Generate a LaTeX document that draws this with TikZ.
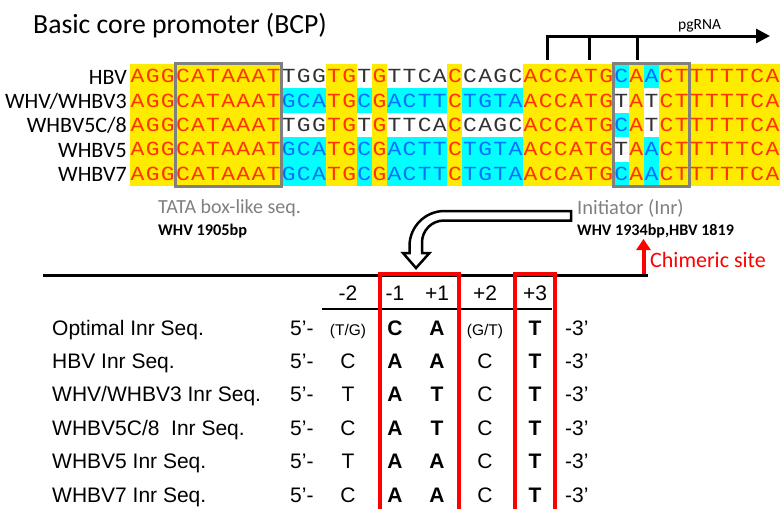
\documentclass[tikz,border=0pt]{standalone}
\usepackage{fontspec}
\setmainfont{Carlito}
\newfontfamily\seqfont[FakeStretch=1.15]{Liberation Mono}
\newfontfamily\tabfont{Liberation Sans}
\usetikzlibrary{arrows.meta}
\definecolor{bgy}{RGB}{255,235,0}
\definecolor{fgy}{RGB}{255,51,0}
\definecolor{bgc}{RGB}{0,255,255}
\definecolor{fgc}{RGB}{0,112,255}
\definecolor{bgw}{RGB}{255,255,255}
\definecolor{fgw}{RGB}{50,50,50}
\definecolor{boxgray}{RGB}{128,128,128}
\definecolor{labgray}{RGB}{128,128,128}
\definecolor{myred}{RGB}{255,0,0}
\newcommand\seqrow[2]{\foreach \ch/\cl [count=\i] in {#2} {\node[cell=\cl] (s#1-\i) at ({130+(\i-0.5)*15.116},{64+(#1-0.5)*24.4}) {\ch};}}
\newcommand\tabrow[8]{%
  \node[tl] (lab#1) at (52,#2) {#3};
  \node[tl] (five#1) at (290,#2) {5’-};
  \node[tc] (mtwo#1) at (348,#2) {#4};
  \node[tcb] (mone#1) at (395,#2) {#5};
  \node[tcb] (pone#1) at (437,#2) {#6};
  \node[tc] (ptwo#1) at (485,#2) {#7};
  \node[tcb] (pthree#1) at (535,#2) {#8};
  \node[tl] (three#1) at (565,#2) {-3’};
}
\begin{document}
\begin{tikzpicture}[x=1pt,y=-1pt,
  cell/.style={fill=bg#1, text=fg#1, minimum width=15.3pt, minimum height=24.6pt, inner sep=0pt, text height=13pt, text depth=0pt, font=\seqfont\fontsize{20}{20}\selectfont},
  rowlab/.style={anchor=base east, inner sep=0pt, font=\fontsize{22}{22}\selectfont},
  graybox/.style={draw=boxgray, line width=3pt},
  blk/.style={line width=3pt, black},
  hollow/.style={draw=black, fill=white, line width=2.5pt, line join=miter},
  tl/.style={anchor=base west, inner sep=0pt, font=\tabfont\fontsize{21}{21}\selectfont},
  tc/.style={anchor=base, inner sep=0pt, font=\tabfont\fontsize{21}{21}\selectfont},
  tcb/.style={anchor=base, inner sep=0pt, font=\tabfont\bfseries\fontsize{21}{21}\selectfont},
  redbox/.style={draw=myred, line width=4.5pt, line join=miter}
]
\useasboundingbox (0,0) rectangle (780,509);
\clip (0,0) rectangle (780,509);

\node[anchor=base west, inner sep=0pt, font=\fontsize{27.7}{28}\selectfont] (title) at (33,33) {Basic core promoter (BCP)};

% alignment
\seqrow{1}{A/y,G/y,G/y,C/y,A/y,T/y,A/y,A/y,A/y,T/y,T/w,G/w,G/w,T/y,G/y,T/w,G/y,T/w,T/w,C/w,A/w,C/y,C/w,A/w,G/w,C/w,A/y,C/y,C/y,A/y,T/y,G/y,C/c,A/y,A/c,C/y,T/y,T/y,T/y,T/y,T/y,C/y,A/y}
\seqrow{2}{A/y,G/y,G/y,C/y,A/y,T/y,A/y,A/y,A/y,T/y,G/c,C/c,A/c,T/y,G/y,C/c,G/y,A/c,C/c,T/c,T/c,C/y,T/c,G/c,T/c,A/c,A/y,C/y,C/y,A/y,T/y,G/y,T/w,A/y,T/w,C/y,T/y,T/y,T/y,T/y,T/y,C/y,A/y}
\seqrow{3}{A/y,G/y,G/y,C/y,A/y,T/y,A/y,A/y,A/y,T/y,T/w,G/w,G/w,T/y,G/y,T/w,G/y,T/w,T/w,C/w,A/w,C/y,C/w,A/w,G/w,C/w,A/y,C/y,C/y,A/y,T/y,G/y,C/c,A/y,T/w,C/y,T/y,T/y,T/y,T/y,T/y,C/y,A/y}
\seqrow{4}{A/y,G/y,G/y,C/y,A/y,T/y,A/y,A/y,A/y,T/y,G/c,C/c,A/c,T/y,G/y,C/c,G/y,A/c,C/c,T/c,T/c,C/y,T/c,G/c,T/c,A/c,A/y,C/y,C/y,A/y,T/y,G/y,T/w,A/y,A/c,C/y,T/y,T/y,T/y,T/y,T/y,C/y,A/y}
\seqrow{5}{A/y,G/y,G/y,C/y,A/y,T/y,A/y,A/y,A/y,T/y,G/c,C/c,A/c,T/y,G/y,C/c,G/y,A/c,C/c,T/c,T/c,C/y,T/c,G/c,T/c,A/c,A/y,C/y,C/y,A/y,T/y,G/y,C/c,A/y,A/c,C/y,T/y,T/y,T/y,T/y,T/y,C/y,A/y}

\draw[graybox] (s1-4.north west) rectangle (s5-10.south east);
\draw[graybox] (s1-33.north west) rectangle (s5-37.south east);

\node[rowlab] (r1) at (127,84) {HBV};
\node[rowlab] (r2) at (127,108.4) {WHV/WHBV3};
\node[rowlab] (r3) at (127,132.8) {WHBV5C/8};
\node[rowlab] (r4) at (127,157.2) {WHBV5};
\node[rowlab] (r5) at (127,181.6) {WHBV7};

% pgRNA arrow
\coordinate (pa) at (547,60);
\coordinate (pb) at (547,36);
\coordinate (pc) at (770,36);
\coordinate (pd) at (589,36);
\coordinate (pe) at (589,60);
\coordinate (pf) at (637,36);
\coordinate (pg) at (637,60);
\draw[blk, line join=miter, -{Triangle[length=14pt,width=14pt]}] (pa) -- (pb) -- (pc);
\draw[blk] (pd) -- (pe);
\draw[blk] (pf) -- (pg);
\node[anchor=base west, inner sep=0pt, font=\fontsize{15.5}{15}\selectfont] (pgrna) at (678,29) {pgRNA};

% labels
\node[anchor=base west, inner sep=0pt, text=labgray, font=\fontsize{20}{20}\selectfont] (tata) at (158,213) {TATA box-like seq.};
\node[anchor=base west, inner sep=0pt, font=\bfseries\fontsize{16.3}{16}\selectfont] (tatapos) at (158,235) {WHV 1905bp};
\node[anchor=base west, inner sep=0pt, text=labgray, font=\fontsize{20.5}{20}\selectfont] (inr) at (577,214) {Initiator (Inr)};
\node[anchor=base west, inner sep=0pt, font=\bfseries\fontsize{16.1}{16}\selectfont] (inrpos) at (577,235) {WHV 1934bp,HBV 1819};

% hollow bent arrow
\draw[hollow] (571,211) -- (444.5,211) .. controls (425.2,211) and (409.5,226.7) .. (409.5,246) -- (409.5,253) -- (403,253) -- (416,268) -- (429.5,253) -- (422,253) -- (422,242.5) .. controls (422,230.3) and (431.8,220.5) .. (444,220.5) -- (571,220.5) -- cycle;

% baseline and chimeric site
\coordinate (la) at (43,275);
\coordinate (lb) at (648,275);
\draw[blk] (la) -- (lb);
\coordinate (ca) at (643.5,274);
\coordinate (cb) at (643.5,239);
\draw[myred, line width=4pt, -{Triangle[length=11pt,width=14pt]}] (ca) -- (cb);
\node[anchor=base west, inner sep=0pt, text=myred, font=\fontsize{22}{22}\selectfont] (chim) at (650,267) {Chimeric site};

% table header
\node[tc] (hm2) at (348,300) {-2};
\node[tc] (hm1) at (395,300) {-1};
\node[tc] (hp1) at (437,300) {+1};
\node[tc] (hp2) at (485,300) {+2};
\node[tc] (hp3) at (535,300) {+3};
\coordinate (ha) at (322,309);
\coordinate (hb) at (552,309);
\draw[line width=1.2pt] (ha) -- (hb);

\tabrow{1}{335}{Optimal Inr Seq.}{\fontsize{15.5}{15}\selectfont(T/G)}{C}{A}{\fontsize{15.5}{15}\selectfont(G/T)}{T}
\tabrow{2}{368.4}{HBV Inr Seq.}{C}{A}{A}{C}{T}
\tabrow{3}{401.8}{WHV/WHBV3 Inr Seq.}{T}{A}{T}{C}{T}
\tabrow{4}{435.2}{WHBV5C/8\ \ Inr Seq.}{C}{A}{T}{C}{T}
\tabrow{5}{468.6}{WHBV5 Inr Seq.}{T}{A}{A}{C}{T}
\tabrow{6}{502}{WHBV7 Inr Seq.}{C}{A}{A}{C}{T}

% red boxes
\draw[redbox] (380,520) -- (380,274) -- (459,274) -- (459,520);
\draw[redbox] (515,520) -- (515,274) -- (555,274) -- (555,520);
\end{tikzpicture}
\end{document}
